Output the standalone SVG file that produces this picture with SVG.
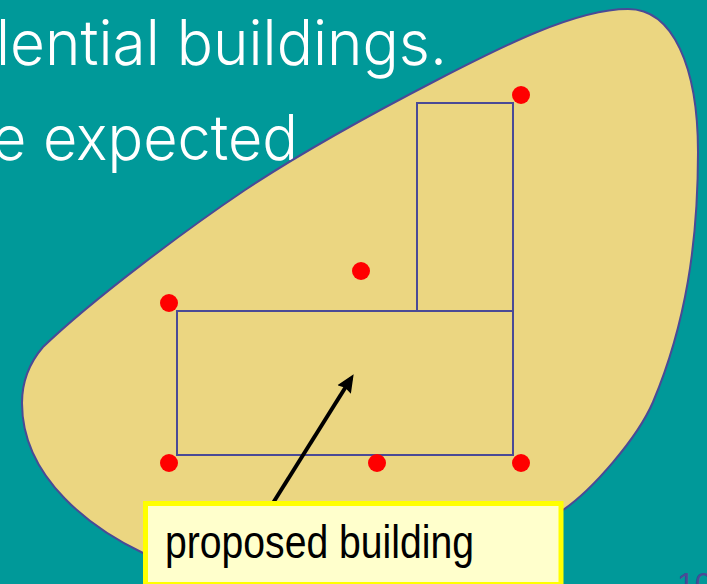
<svg xmlns="http://www.w3.org/2000/svg" width="707" height="584" viewBox="0 0 707 584">
<defs>
<style>
.head{font-family:Inter,"Liberation Sans",Arial,sans-serif;font-weight:350;font-size:63px;fill:#fff}
.out{fill:none;stroke:#4a4a96;stroke-width:2}
.dot{fill:#f00}
</style>
<marker id="arrow" markerUnits="userSpaceOnUse" markerWidth="20" markerHeight="20" refX="13" refY="9" orient="auto"><path d="M0 1L18 9L0 17L2 9Z" fill="#000"/></marker>
</defs>
<rect width="707" height="584" fill="#009999"/>
<text class="head" x="-4" y="65" textLength="451" lengthAdjust="spacingAndGlyphs">lential buildings.</text>
<text class="head" x="-8" y="160" textLength="306" lengthAdjust="spacingAndGlyphs">e expected</text>
<path id="site" d="M628 9C673 9 698 67 698 152C698 242 686 324 653 402C637 439 592 490 563 510L143 553C95 530 22 480 22 403C22 380 31 361 43 347C93 299 187 229 245 190C299 154 379 110 437 80C499 48 575 9 628 9Z" fill="#ebd681" stroke="#4a4a96" stroke-width="2"/>
<g id="building"><path class="out" d="M177 311H513V455H177ZM417 311V103H513V311"/></g>
<g id="corners">
<circle class="dot" cx="521" cy="95" r="9"/>
<circle class="dot" cx="361" cy="271" r="9"/>
<circle class="dot" cx="169" cy="303" r="9"/>
<circle class="dot" cx="169" cy="463" r="9"/>
<circle class="dot" cx="377" cy="463" r="9"/>
<circle class="dot" cx="521" cy="463" r="9"/>
</g>
<g id="connectors"><line x1="273" y1="503" x2="351" y2="378.500" stroke="#000" stroke-width="4" marker-end="url(#arrow)"/></g>
<g id="label">
<rect x="145.500" y="503.500" width="415.500" height="81" fill="#ffffcc" stroke="#ffff00" stroke-width="5"/>
<text x="165" y="558" font-family="Liberation Sans,Arial,sans-serif" font-size="47" fill="#000" textLength="309" lengthAdjust="spacingAndGlyphs">proposed building</text>
</g>
<text x="677" y="595" font-family="Liberation Sans,Arial,sans-serif" font-size="32" fill="#4a4a96">10</text>
</svg>
